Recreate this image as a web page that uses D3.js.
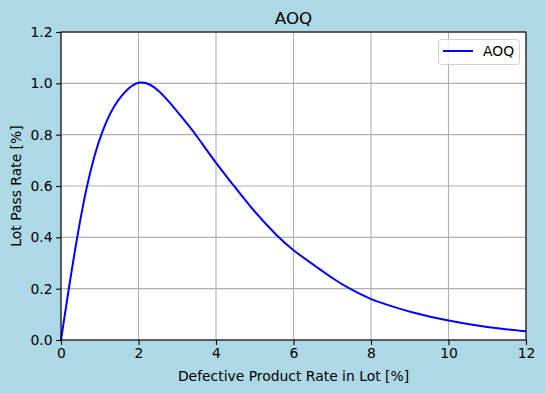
<!DOCTYPE html>
<html><head><meta charset="utf-8">
<script src="https://cdn.jsdelivr.net/npm/d3@7"></script>
<style>
body{margin:0;background:#add8e6;}
svg{display:block;font-family:"DejaVu Sans",sans-serif;}
</style></head>
<body>
<svg id="c" width="545" height="393"></svg>
<script>
const defectRate = [0,0.2,0.413,0.66,0.877,1.03,1.35,1.78,2.04,2.30,2.555,2.81,3.07,3.33,3.48,4.0,4.47,4.88,5.61,6.0,6.64,7.02,7.41,8.0,8.36,9.0,10.0,11.0,12.0];
const aoqValues  = [0,0.2,0.4,0.6,0.727,0.8,0.915,0.99,1.008,0.998,0.967,0.925,0.877,0.829,0.8,0.688,0.6,0.519,0.398,0.348,0.28,0.239,0.202,0.158,0.140,0.109,0.074,0.049,0.034];
const xTicks = [0,2,4,6,8,10,12];
const yTicks = [0,0.2,0.4,0.6,0.8,1.0,1.2];
const seriesName = "AOQ";

const svg = d3.select("#c");
const L=61, R=526, T=32, B=340;
const x = d3.scaleLinear().domain([0,12]).range([L,R]);
const y = d3.scaleLinear().domain([0,1.2]).range([B,T]);

svg.append("rect").attr("x",L).attr("y",T).attr("width",R-L).attr("height",B-T).attr("fill","#fff");

// grid
svg.append("g").selectAll("line").data(xTicks).join("line")
  .attr("x1",d=>x(d)).attr("x2",d=>x(d)).attr("y1",T).attr("y2",B)
  .attr("stroke","#b0b0b0").attr("stroke-width",1.1);
svg.append("g").selectAll("line").data(yTicks).join("line")
  .attr("y1",d=>y(d)).attr("y2",d=>y(d)).attr("x1",L).attr("x2",R)
  .attr("stroke","#b0b0b0").attr("stroke-width",1.1);

// line
const pts = defectRate.map((d,i)=>[d,aoqValues[i]]);
svg.append("path").datum(pts)
  .attr("d", d3.line().x(d=>x(d[0])).y(d=>y(d[1])).curve(d3.curveBasis))
  .attr("fill","none").attr("stroke","#0000ff").attr("stroke-width",2);

// axes
const xa = svg.append("g").attr("transform",`translate(0,${B})`)
  .call(d3.axisBottom(x).tickValues(xTicks).tickFormat(d3.format("d")).tickSize(4.9).tickPadding(3.5));
const ya = svg.append("g").attr("transform",`translate(${L},0)`)
  .call(d3.axisLeft(y).tickValues(yTicks).tickFormat(d3.format(".1f")).tickSize(4.9).tickPadding(3.5));
[xa,ya].forEach(a=>{
  a.select(".domain").remove();
  a.selectAll("line").attr("stroke","#000").attr("stroke-width",1.1);
  a.selectAll("text").attr("font-size","13.9px").attr("fill","#000").attr("font-family","DejaVu Sans");
});

// frame
svg.append("rect").attr("x",L).attr("y",T).attr("width",R-L).attr("height",B-T)
  .attr("fill","none").attr("stroke","#000").attr("stroke-width",1.1);

// labels
svg.append("text").attr("x",(L+R)/2).attr("y",24).attr("text-anchor","middle")
  .attr("font-size","16.7px").text("AOQ");
svg.append("text").attr("x",(L+R)/2).attr("y",381).attr("text-anchor","middle")
  .attr("font-size","13.9px").text("Defective Product Rate in Lot [%]");
svg.append("text").attr("transform",`translate(21,${(T+B)/2}) rotate(-90)`).attr("text-anchor","middle")
  .attr("font-size","13.9px").text("Lot Pass Rate [%]");

// legend
const lg = svg.append("g");
lg.append("rect").attr("x",438.5).attr("y",39.5).attr("width",81).attr("height",25).attr("rx",3)
  .attr("fill","#fff").attr("fill-opacity",0.8).attr("stroke","#d0d0d0").attr("stroke-width",1);
lg.append("line").attr("x1",443).attr("x2",473).attr("y1",51).attr("y2",51)
  .attr("stroke","#0000ff").attr("stroke-width",2);
lg.append("text").attr("x",483).attr("y",56).attr("font-size","13.9px").text(seriesName);
</script>
</body></html>
